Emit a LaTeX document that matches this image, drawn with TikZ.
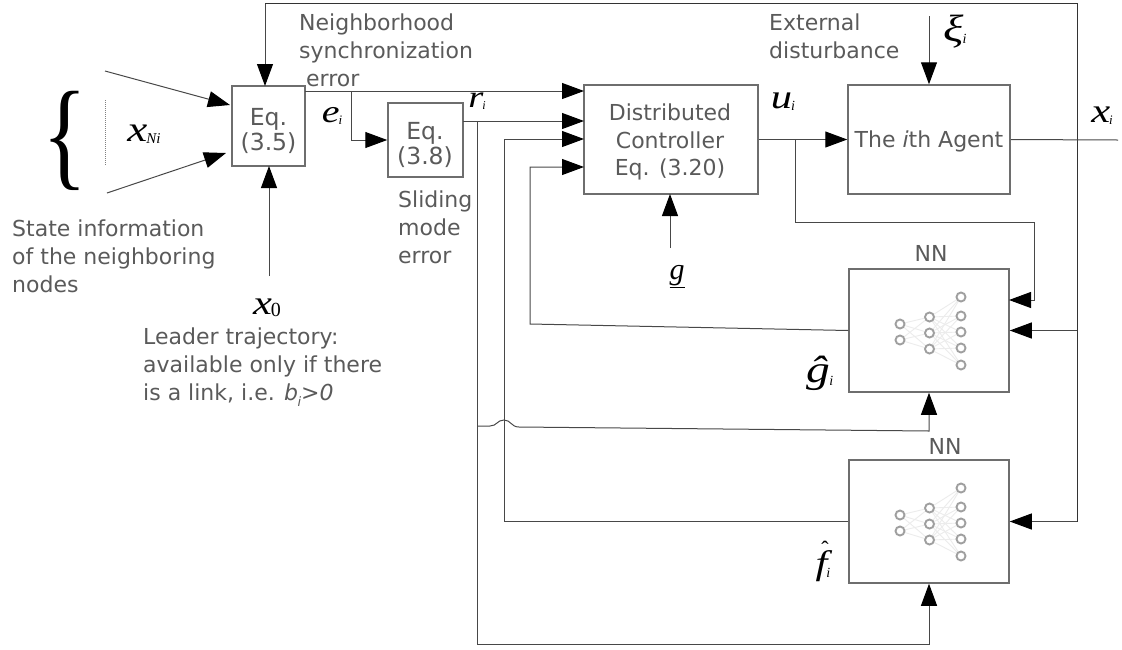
\documentclass[tikz,border=0pt]{standalone}
\usepackage{fontspec}
\setmainfont{DejaVu Sans}
\newfontfamily\mathserif{Liberation Serif}[Ligatures=TeX]
\usetikzlibrary{arrows.meta}
\definecolor{txt}{HTML}{5A5A5A}
\definecolor{ln}{HTML}{484848}
\definecolor{bx}{HTML}{6E6E6E}
% letter size, letter, subscript size, subscript, drop of subscript
\newcommand{\symt}[5]{{\mathserif\itshape\scalebox{1.25}[1]{\fontsize{#1}{#1}\selectfont #2}\kern-1pt\raisebox{#5}{\fontsize{#3}{#3}\selectfont #4}}}
\tikzset{
  wire/.style={draw=ln,line width=1pt},
  topwire/.style={draw=black!80,line width=1pt},
  arr/.style={wire,-{Triangle[length=22pt,width=16pt,color=black]},shorten >=0pt},
  blockbox/.style={draw=bx,line width=1.5pt,fill=white,inner sep=0pt},
  blocktext/.style={inner sep=0pt,align=center,text=txt,font=\fontsize{22}{27.5}\selectfont},
  eqtext/.style={inner sep=0pt,align=center,text=txt,font=\fontsize{23.5}{25}\selectfont},
  lab/.style={text=txt,font=\fontsize{22}{28}\selectfont,align=left,inner sep=0pt},
  symb/.style={text=black,inner sep=0pt},
  neuron/.style={circle,draw=gray!75,line width=1.9pt,minimum size=9pt,inner sep=0pt,fill=white},
  nnlink/.style={draw=gray!15,line width=0.9pt},
  pics/nnet/.style={code={
    \foreach \n/\a/\b in {a1/-29.5/-6.5,a2/-29.5/9.5}{\coordinate (\n) at (\a,\b);}
    \foreach \n/\a/\b in {b1/0/-13.5,b2/0/2.5,b3/0/18.5}{\coordinate (\n) at (\a,\b);}
    \foreach \n/\a/\b in {c1/31.5/-33.5,c2/31.5/-14.5,c3/31.5/1.5,c4/31.5/17.5,c5/31.5/34.5}{\coordinate (\n) at (\a,\b);}
    \foreach \p in {a1,a2}\foreach \q in {b1,b2,b3}{\draw[nnlink] (\p)--(\q);}
    \foreach \p in {b1,b2,b3}\foreach \q in {c1,c2,c3,c4,c5}{\draw[nnlink] (\p)--(\q);}
    \foreach \p in {a1,a2,b1,b2,b3,c1,c2,c3,c4,c5}{\node[neuron] at (\p) {};}
  }}
}
\begin{document}
\begin{tikzpicture}[x=1pt,y=-1pt]
\useasboundingbox (0,0) rectangle (1122,649);
% blocks
\node[blockbox,minimum width=73pt,minimum height=80pt] (eqa) at (268.5,126) {};
\node[eqtext] (eqat) at (268.5,130.5) {Eq.\\(3.5)};
\node[blockbox,minimum width=75pt,minimum height=74pt] (eqb) at (425.5,140) {};
\node[eqtext] (eqbt) at (425,145) {Eq.\\(3.8)};
\node[blockbox,minimum width=174pt,minimum height=109pt] (ctrl) at (671,139.5) {};
\node[blocktext] (ctrlt) at (670,142) {Distributed\\Controller\\Eq. (3.20)};
\node[blockbox,minimum width=162pt,minimum height=109pt] (agent) at (929,139.5) {};
\node[blocktext] (agentt) at (929,141.5) {The \textit{i}th Agent};
\node[blockbox,minimum width=160pt,minimum height=123pt] (nna) at (929,330.5) {};
\node[blockbox,minimum width=160pt,minimum height=123pt] (nnb) at (929,521.5) {};
\pic at (929.5,330.5) {nnet};
\pic at (929.5,521.5) {nnet};
% labels
\node[lab,anchor=north west] (tna) at (299,14) {Neighborhood\\synchronization\\\ error};
\node[lab,anchor=north west] (tsl) at (398,191) {Sliding\\mode\\error};
\node[lab,anchor=north west] (tst) at (12,220) {State information\\of the neighboring\\nodes};
\node[lab,anchor=north west] (tle) at (143,328) {Leader trajectory:\\available only if there\\is a link, i.e. \textit{b\kern-0.5pt\raisebox{-6pt}{\fontsize{13}{13}\selectfont i}>0}};
\node[lab,anchor=north west] (tex) at (769,14) {External\\disturbance};
\node[lab,anchor=south] (tnna) at (931,262) {NN};
\node[lab,anchor=south] (tnnb) at (945,455) {NN};
% symbols
\node[symb] (xni) at (144,134) {\symt{36}{x}{15}{Ni}{-2pt}};
\node[symb] (ei) at (332,116) {\symt{32}{e}{13}{i}{-2pt}};
\node[symb] (ri) at (477,101) {\symt{31}{r}{12}{i}{-2pt}};
\node[symb] (ui) at (783,102) {\symt{34}{u}{14}{i}{-2pt}};
\node[symb] (xo) at (267,308) {\symt{34}{x}{20}{\textup{0}}{-2pt}};
\node[symb] (xi) at (1102,116) {\symt{34}{x}{13}{i}{-2pt}};
\node[symb] (xii) at (955,32) {\symt{38}{ξ}{14}{i}{-2pt}};
\node[symb] (g) at (677,277) {\mathserif\itshape\fontsize{30}{30}\selectfont\underline{g}};
\node[symb] (ghat) at (820,373) {\symt{38}{\^g}{14}{i}{-3pt}};
\node[symb] (fhat) at (823,566) {\symt{34}{f}{14}{i}{-3pt}};
\node[symb] (fmark) at (825,549) {\mathserif\fontsize{22}{22}\selectfont ˆ};
\node[symb] (brace) at (65,141) {\scalebox{0.75}[0.96]{\mathserif\fontsize{125}{125}\selectfont\{}};
% free ends
\coordinate (top) at (265,3);
\coordinate (topc) at (1077,3);
\coordinate (xend) at (1118,140);
\coordinate (sa) at (105,71);
\coordinate (sb) at (107,193);
\coordinate (ta) at (230,105);
\coordinate (tb) at (226,153);
\coordinate (ej) at (351,91);
\coordinate (rj) at (477,121);
\coordinate (uj) at (795,139.5);
\coordinate (gs) at (670,248);
\coordinate (xos) at (269,276);
\coordinate (xis) at (929,16);
\draw[arr] (top) -- (265,86);
\draw[topwire] (top) -- (topc) -- (1077,521.5);
\draw[arr] (sa) -- (ta);
\draw[arr] (sb) -- (tb);
\draw[arr] (xos) -- (269,166);
\draw[dash pattern=on 1pt off 1pt,draw=gray,line width=1pt] (105,100) -- (105,166);
% e_i
\draw[arr] (305,91) -- (584,91);
\draw[arr] (ej) |- (eqb.west);
% r_i
\draw[arr] (463,121) -- (584,121);
\draw[arr] (rj) -- (477,644) -- (929,644) -- (nnb.south);
\draw[arr] (477,426) -- (490,426) .. controls (497,426) and (497,420) .. (504,420) .. controls (511,420) and (511,427) .. (519,427) -- (929,431) -- (nna.south);
% feedbacks to controller
\draw[arr] (nnb.west) -- (504,521.5) -- (504,139) -- (584,139);
\draw[arr] (nna.west) -- (530,324) -- (530,167) -- (584,167);
% g
\draw[arr] (gs) -- (670,194);
% u_i
\draw[arr] (ctrl.east) -- (agent.west);
\draw[arr] (uj) -- (795,222) -- (1034,222) -- (1034,300) -- (1009,300);
% x_i
\draw[wire] (agent.east) -- (xend);
\draw[arr] (1077,330.5) -- (nna.east);
\draw[arr] (1077,521.5) -- (nnb.east);
% disturbance
\draw[arr] (xis) -- (agent.north);
\end{tikzpicture}
\end{document}
